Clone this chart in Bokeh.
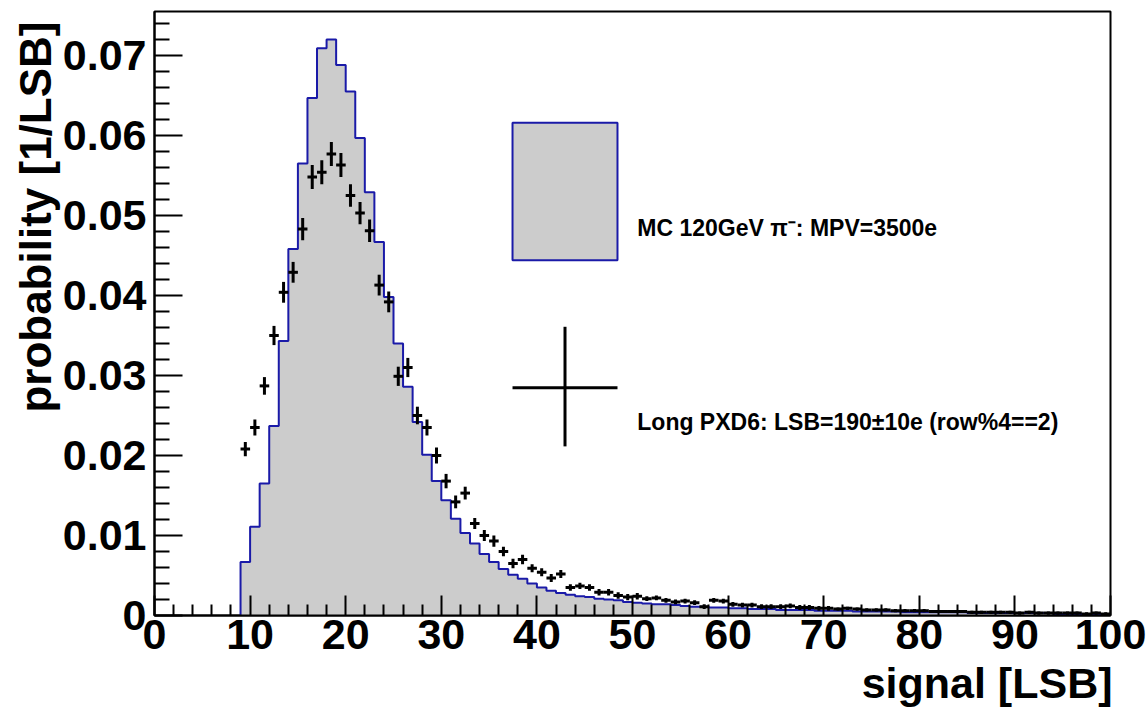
from bokeh.plotting import figure
from bokeh.models import Range1d, FixedTicker, CustomJSTickFormatter, Label, Title
from bokeh.embed import file_html
from bokeh.resources import INLINE

# ---------------- data ----------------
first_bin = 9          # lower edge of first filled bin [LSB]
bin_width = 1          # LSB

mc_prob = [
    0.0067, 0.0111, 0.0165, 0.0237, 0.0343, 0.0458, 0.0565, 0.0647, 0.0709, 0.0720,   # 9-18
    0.0688, 0.0655, 0.0597, 0.0529, 0.0467, 0.0398, 0.0340, 0.0286, 0.0242, 0.0201,   # 19-28
    0.0168, 0.0144, 0.0121, 0.0103, 0.0090, 0.0077, 0.0067, 0.0058, 0.0051, 0.0046,   # 29-38
    0.0040, 0.0035, 0.0031, 0.0028, 0.0026, 0.0024, 0.0023, 0.0021, 0.0020, 0.0019,   # 39-48
    0.0017, 0.0016, 0.0015, 0.0014, 0.0014, 0.0013, 0.0012, 0.0011, 0.0011, 0.0010,   # 49-58
    0.0010, 0.0009, 0.0009, 0.0008, 0.0008, 0.0008, 0.0007, 0.0007, 0.0007, 0.0007,   # 59-68
    0.0006, 0.0006, 0.0006, 0.0006, 0.0005, 0.0005, 0.0005, 0.0005, 0.0005, 0.0004,   # 69-78
    0.0004, 0.0004, 0.0004, 0.0004, 0.0004, 0.0004, 0.0003, 0.0003, 0.0003, 0.0003,   # 79-88
    0.0003, 0.0003, 0.0003, 0.0003, 0.0003, 0.0002, 0.0002, 0.0002, 0.0002, 0.0002,   # 89-98
    0.0002,                                                                           # 99
]

data_prob = [
    0.0208, 0.0235, 0.0287, 0.0350, 0.0404, 0.0429, 0.0483, 0.0548, 0.0554, 0.0577,   # 9-18
    0.0563, 0.0525, 0.0503, 0.0481, 0.0413, 0.0392, 0.0299, 0.0310, 0.0250, 0.0235,   # 19-28
    0.0200, 0.0168, 0.0142, 0.0153, 0.0115, 0.0100, 0.0093, 0.0080, 0.0065, 0.0070,   # 29-38
    0.0059, 0.0054, 0.0047, 0.0052, 0.0035, 0.0037, 0.0035, 0.0029, 0.0029, 0.0025,   # 39-48
    0.0023, 0.0024, 0.0021, 0.0022, 0.0019, 0.0017, 0.0018, 0.0016, 0.0011, 0.0019,   # 49-58
    0.0018, 0.0014, 0.0013, 0.0013, 0.0011, 0.0011, 0.0011, 0.0012, 0.0010, 0.0010,   # 59-68
    0.0009, 0.0009, 0.0008, 0.0009, 0.0008, 0.0007, 0.0007, 0.0007, 0.0006, 0.0006,   # 69-78
    0.0006, 0.0006, 0.0005, 0.0005, 0.0005, 0.0005, 0.0004, 0.0004, 0.0004, 0.0004,   # 79-88
    0.0004, 0.0003, 0.0004, 0.0003, 0.0003, 0.0003, 0.0003, 0.0003, 0.0002, 0.0003,   # 89-98
    0.0002,                                                                           # 99
]

data_err = [
    0.0009, 0.0010, 0.0011, 0.0012, 0.0013, 0.0013, 0.0014, 0.0015, 0.0015, 0.0015,   # 9-18
    0.0015, 0.0014, 0.0014, 0.0014, 0.0013, 0.0013, 0.0012, 0.0012, 0.0011, 0.0010,   # 19-28
    0.0010, 0.0009, 0.0008, 0.0008, 0.0007, 0.0007, 0.0007, 0.0006, 0.0006, 0.0006,   # 29-38
    0.0005, 0.0005, 0.0005, 0.0005, 0.0004, 0.0004, 0.0004, 0.0004, 0.0004, 0.0004,   # 39-48
    0.0004, 0.0004, 0.0003, 0.0003, 0.0003, 0.0003, 0.0003, 0.0003, 0.0003, 0.0003,   # 49-58
    0.0003, 0.0003, 0.0003, 0.0003, 0.0003, 0.0003, 0.0003, 0.0003, 0.0003, 0.0003,   # 59-68
    0.0003, 0.0003, 0.0002, 0.0002, 0.0002, 0.0002, 0.0002, 0.0002, 0.0002, 0.0002,   # 69-78
    0.0002, 0.0002, 0.0002, 0.0002, 0.0002, 0.0002, 0.0002, 0.0002, 0.0002, 0.0002,   # 79-88
    0.0002, 0.0002, 0.0002, 0.0002, 0.0002, 0.0002, 0.0002, 0.0002, 0.0002, 0.0002,   # 89-98
    0.0002,                                                                           # 99
]

x_major_ticks = [0, 10, 20, 30, 40, 50, 60, 70, 80, 90, 100]
y_major_ticks = [0.0, 0.01, 0.02, 0.03, 0.04, 0.05, 0.06, 0.07]

legend_mc = "MC 120GeV  \u03c0\u207b: MPV=3500e"
legend_data = "Long PXD6: LSB=190\u00b110e (row%4==2)"
x_title = "signal [LSB]"
y_title = "probability [1/LSB]"

# ---------------- derived ----------------
lows = [first_bin + i * bin_width for i in range(len(mc_prob))]
highs = [lo + bin_width for lo in lows]
centers = [lo + 0.5 * bin_width for lo in lows]

step_x = [lows[0]]
step_y = [0.0]
for lo, hi, v in zip(lows, highs, mc_prob):
    step_x += [lo, hi]
    step_y += [v, v]
step_x.append(highs[-1])
step_y.append(0.0)

X0, X1 = 0, 100
Y0, Y1 = 0.0, 0.0755

FONT = "Liberation Sans"
BLUE = "#1a1aa8"
GRAY = "#cccccc"

p = figure(width=1148, height=714, output_backend="svg", toolbar_location=None,
           x_range=Range1d(X0, X1), y_range=Range1d(Y0, Y1),
           min_border_left=154, min_border_right=38, min_border_top=11, min_border_bottom=99)
p.background_fill_color = "white"
p.border_fill_color = "white"
p.outline_line_color = "black"
p.outline_line_width = 2
p.xgrid.visible = False
p.ygrid.visible = False

# histogram (MC): filled area + blue outline
p.patch(step_x, step_y, fill_color=GRAY, line_color=None)
p.line(step_x, step_y, line_color=BLUE, line_width=2)

# data points with error crosses
p.segment(x0=[c - 0.5 * bin_width for c in centers], x1=[c + 0.5 * bin_width for c in centers],
          y0=data_prob, y1=data_prob, line_color="black", line_width=3)
p.segment(x0=centers, x1=centers,
          y0=[v - e for v, e in zip(data_prob, data_err)],
          y1=[v + e for v, e in zip(data_prob, data_err)],
          line_color="black", line_width=3)

# ---------------- legend (positions as fractions of the axes, like NDC) ----------------
def fx(f):
    return X0 + f * (X1 - X0)

def fy(f):
    return Y0 + f * (Y1 - Y0)

bx0, bx1 = fx(0.3745), fx(0.4843)
p.quad(left=[bx0], right=[bx1], bottom=[fy(0.588)], top=[fy(0.816)],
       fill_color=GRAY, line_color=BLUE, line_width=2)
cx = 0.5 * (bx0 + bx1)
cy = fy(0.377)
p.segment(x0=[bx0], x1=[bx1], y0=[cy], y1=[cy], line_color="black", line_width=3)
p.segment(x0=[cx], x1=[cx], y0=[fy(0.280)], y1=[fy(0.478)], line_color="black", line_width=3)

p.add_layout(Label(x=fx(0.505), y=fy(0.641), text=legend_mc, text_font=FONT,
                   text_font_style="bold", text_font_size="23px", text_baseline="middle",
                   text_align="left", text_color="black"))
p.add_layout(Label(x=fx(0.505), y=fy(0.320), text=legend_data, text_font=FONT,
                   text_font_style="bold", text_font_size="23px", text_baseline="middle",
                   text_align="left", text_color="black"))

# ---------------- axes ----------------
for ax in (p.xaxis[0], p.yaxis[0]):
    ax.axis_line_width = 2
    ax.axis_line_color = "black"
    ax.major_tick_line_width = 2
    ax.minor_tick_line_width = 2
    ax.major_tick_out = 0
    ax.minor_tick_out = 0
    ax.major_label_text_font = FONT
    ax.major_label_text_font_style = "bold"
    ax.major_label_text_font_size = "43px"
    ax.major_label_text_color = "black"

p.xaxis.ticker = FixedTicker(ticks=x_major_ticks,
                             minor_ticks=[t for t in range(0, 101, 2) if t % 10])
p.xaxis.formatter = CustomJSTickFormatter(code="return tick.toFixed(0);")
p.xaxis.major_tick_in = 20
p.xaxis.minor_tick_in = 11
p.xaxis.major_label_standoff = 4

p.yaxis.ticker = FixedTicker(ticks=y_major_ticks,
                             minor_ticks=[round(i * 0.002, 3) for i in range(0, 38) if i % 5])
p.yaxis.formatter = CustomJSTickFormatter(code="return tick == 0 ? '0' : tick.toFixed(2);")
p.yaxis.major_tick_in = 28
p.yaxis.minor_tick_in = 15
p.yaxis.major_label_standoff = 8

# axis titles, right-aligned at the ends of the axes (ROOT style)
p.add_layout(Title(text=x_title, align="right", standoff=11, offset=-2, text_font=FONT,
                   text_font_style="bold", text_font_size="43px", text_color="black"), "below")
p.add_layout(Title(text=y_title, align="right", standoff=0, offset=10, text_font=FONT,
                   text_font_style="bold", text_font_size="44px", text_color="black"), "left")

open("out.html", "w").write(file_html(p, INLINE))
